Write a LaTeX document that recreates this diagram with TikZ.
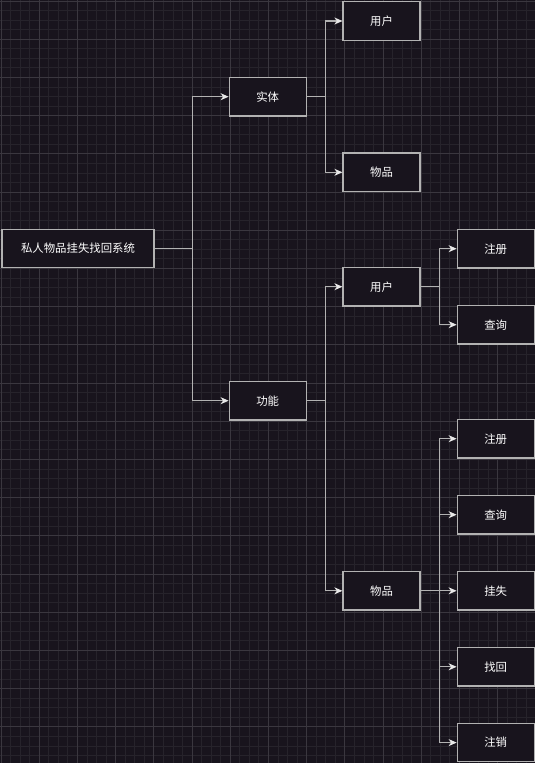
\documentclass[tikz,border=0pt]{standalone}
\usepackage{fontspec}
\setmainfont{Noto Sans CJK SC}
\usetikzlibrary{arrows.meta}
\definecolor{bg}{RGB}{24,20,29}
\definecolor{gminor}{RGB}{38,35,43}
\definecolor{gmajor}{RGB}{58,55,63}
\definecolor{edgec}{RGB}{178,178,178}
\definecolor{tipc}{RGB}{232,232,232}
\begin{document}
\begin{tikzpicture}[x=1pt,y=-1pt,
  box/.style={draw=edgec, line width=1.2pt, fill=bg, minimum width=77pt, minimum height=38.5pt, inner sep=0pt, text=white, font=\fontsize{11.4pt}{13pt}\selectfont},
  conn/.style={draw=edgec, line width=1.1pt, -{Stealth[length=8pt,width=7pt,inset=2.5pt,color=tipc,fill=tipc]}}]
\useasboundingbox (0,0) rectangle (535,763);
\fill[bg] (0,0) rectangle (535,763);
% grid
\foreach \i in {0,...,56} {\draw[gminor, line width=0.8pt] ({1+9.55*\i},0) -- ({1+9.55*\i},763);}
\foreach \i in {0,...,80} {\draw[gminor, line width=0.8pt] (0,{1+9.55*\i}) -- (535,{1+9.55*\i});}
\foreach \i in {0,...,14} {\draw[gmajor, line width=0.8pt] ({1+38.2*\i},0) -- ({1+38.2*\i},763);}
\foreach \i in {0,...,20} {\draw[gmajor, line width=0.8pt] (0,{1+38.2*\i}) -- (535,{1+38.2*\i});}
% nodes
\node[box, minimum width=152pt] (root) at (78,248.5) {私人物品挂失找回系统};
\node[box] (e) at (267.7,96.7) {实体};
\node[box] (f) at (267.7,400.7) {功能};
\node[box] (u1) at (381.5,21) {用户};
\node[box] (w1) at (381.5,172.3) {物品};
\node[box] (u2) at (381.5,286.7) {用户};
\node[box] (w2) at (381.5,590.8) {物品};
\node[box] (r1) at (495.7,248.7) {注册};
\node[box] (q1) at (495.7,324.7) {查询};
\node[box] (r2) at (495.7,438.7) {注册};
\node[box] (q2) at (495.7,514.7) {查询};
\node[box] (g) at (495.7,590.8) {挂失};
\node[box] (h) at (495.7,666.8) {找回};
\node[box] (x) at (495.7,742.6) {注销};
% connectors
\draw[conn] (root.east) -- ++(37.5,0) |- (e.west);
\draw[conn] (root.east) -- ++(37.5,0) |- (f.west);
\draw[conn] (e.east) -- ++(19,0) |- (u1.west);
\draw[conn] (e.east) -- ++(19,0) |- (w1.west);
\draw[conn] (f.east) -- ++(19,0) |- (u2.west);
\draw[conn] (f.east) -- ++(19,0) |- (w2.west);
\draw[conn] (u2.east) -- ++(18.5,0) |- (r1.west);
\draw[conn] (u2.east) -- ++(18.5,0) |- (q1.west);
\draw[conn] (w2.east) -- ++(18.5,0) |- (r2.west);
\draw[conn] (w2.east) -- ++(18.5,0) |- (q2.west);
\draw[conn] (w2.east) -- (g.west);
\draw[conn] (w2.east) -- ++(18.5,0) |- (h.west);
\draw[conn] (w2.east) -- ++(18.5,0) |- (x.west);
\end{tikzpicture}
\end{document}
